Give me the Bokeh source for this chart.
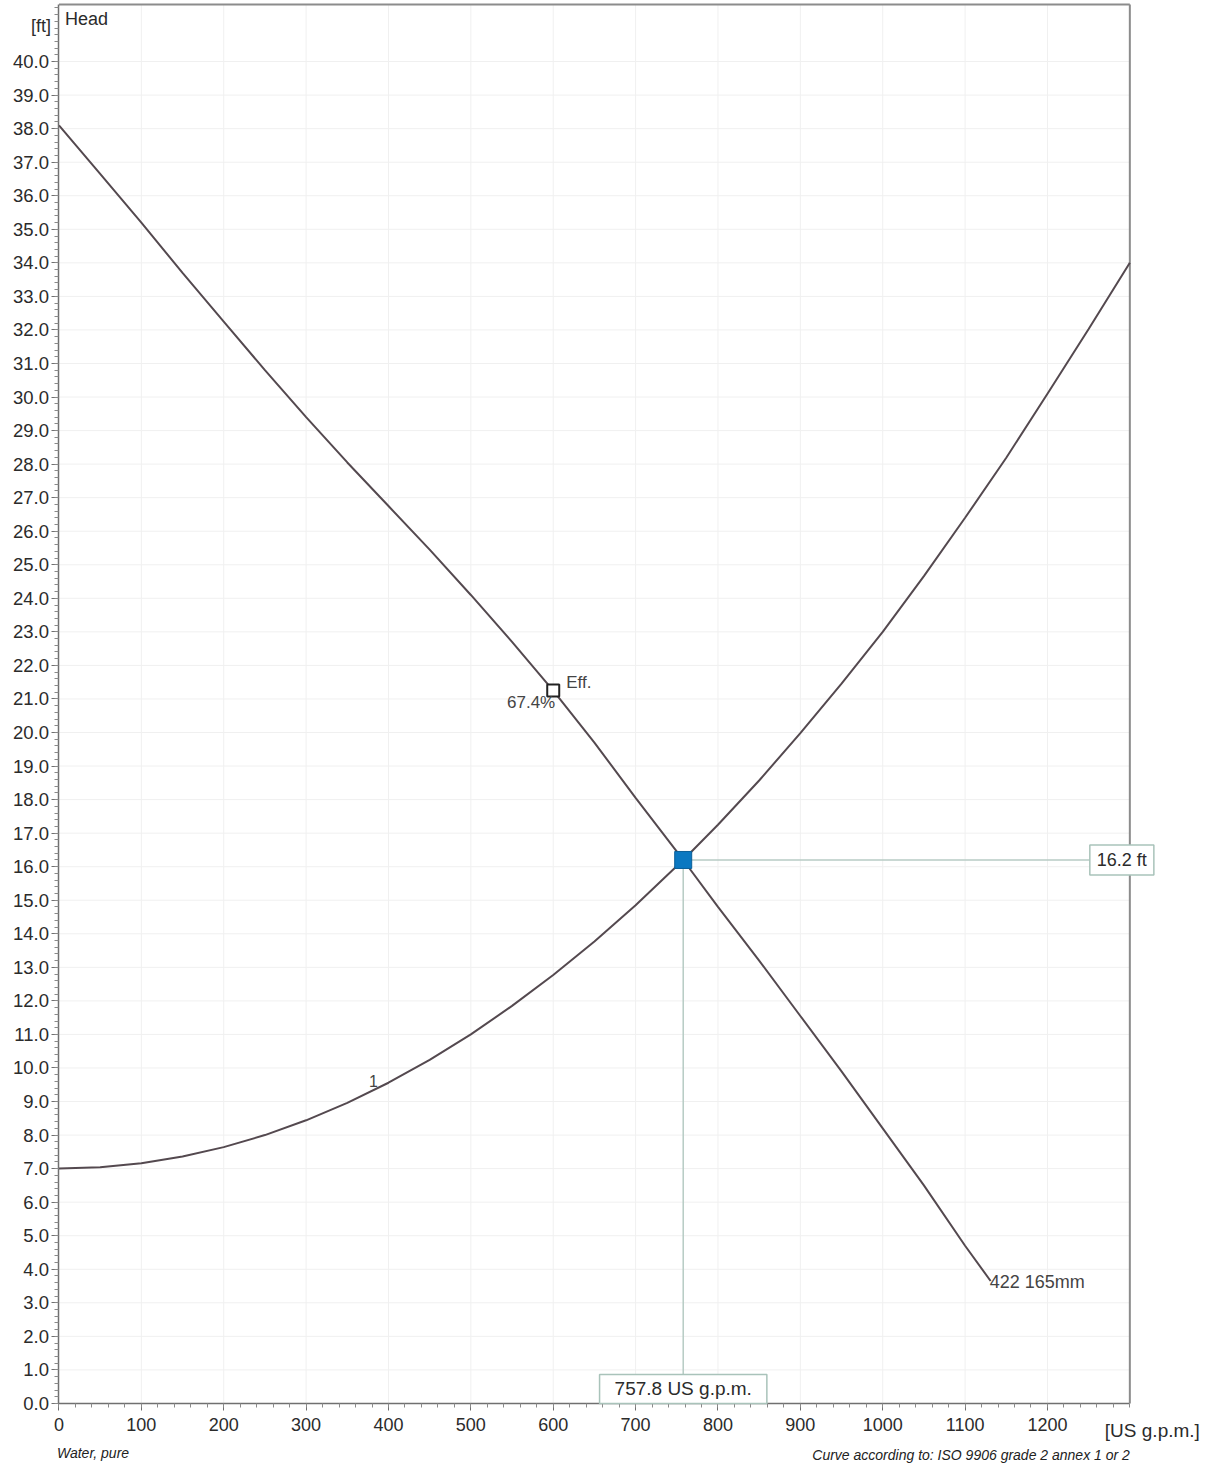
from bokeh.plotting import figure
from bokeh.models import Range1d, FixedTicker, NumeralTickFormatter, Label
from bokeh.core.properties import value
from bokeh.embed import file_html
from bokeh.resources import INLINE

# Pump curve, impeller "422 165mm" (flow in US g.p.m., head in ft)
pump_q = [0, 50, 100, 150, 200, 250, 300, 350, 400, 450, 500, 550, 600, 650, 700,
          757.8, 800, 850, 900, 950, 1000, 1050, 1100, 1131]
pump_h = [38.1, 36.65, 35.2, 33.7, 32.25, 30.8, 29.4, 28.05, 26.75, 25.45, 24.1, 22.7,
          21.25, 19.7, 18.05, 16.2, 14.8, 13.2, 11.55, 9.9, 8.2, 6.5, 4.7, 3.65]

# System curve "1"
sys_q = [0, 50, 100, 150, 200, 250, 300, 350, 400, 450, 500, 550, 600, 650, 700,
         757.8, 800, 850, 900, 950, 1000, 1050, 1100, 1150, 1200, 1250, 1300]
sys_h = [7.0, 7.04, 7.16, 7.36, 7.64, 8.0, 8.44, 8.96, 9.56, 10.24, 11.0, 11.85, 12.77,
         13.77, 14.85, 16.2, 17.25, 18.57, 19.98, 21.46, 23.0, 24.66, 26.4, 28.19, 30.1,
         32.03, 34.0]

# Duty point and best-efficiency marker
duty_q = 757.8
duty_h = 16.2
eff_q = 600
eff_h = 21.25
eff_pct = 67.4

x_ticks = list(range(0, 1201, 100))
x_minor = list(range(0, 1301, 20))
y_ticks = list(range(0, 41))
y_minor = [round(i * 0.2, 1) for i in range(0, 209)]

# chart area limits (the diagram box)
X_MAX = 1300
Y_MAX = 41.7
# visible extent, leaving room around the box for the axes and notes
X_LO, X_HI = -71.0, 1405.2
Y_LO, Y_HI = -1.82, 41.82

FONT = "Liberation Sans"
NARROW = "Liberation Sans Narrow, Liberation Sans"
TXT = "#2b2b2b"
CURVE = "#54494f"
GUIDE = "#b7cbc4"
BOX = "#a9c3ba"

p = figure(
    width=1216, height=1464,
    x_range=Range1d(X_LO, X_HI), y_range=Range1d(Y_LO, Y_HI),
    output_backend="svg", toolbar_location=None,
    min_border=0, min_border_left=0, min_border_right=0,
    min_border_top=0, min_border_bottom=0,
    background_fill_color="white", border_fill_color="white",
)
p.outline_line_color = None
p.xgrid.visible = False
p.ygrid.visible = False

# faint grid inside the diagram box
p.segment(x0=x_ticks[1:] + [1300], y0=0, x1=x_ticks[1:] + [1300], y1=Y_MAX,
          line_color="#f0f0f0", line_width=1)
p.segment(x0=0, y0=y_ticks[1:], x1=X_MAX, y1=y_ticks[1:],
          line_color="#f0f0f0", line_width=1)

# box edges (top and right)
p.segment(x0=[0, X_MAX], y0=[Y_MAX, 0], x1=[X_MAX, X_MAX], y1=[Y_MAX, Y_MAX],
          line_color="#8c8c8c", line_width=2)

# axes along the box edges
p.xaxis.fixed_location = 0
p.yaxis.fixed_location = 0
p.xaxis.bounds = (0, X_MAX)
p.yaxis.bounds = (0, Y_MAX)
p.xaxis.ticker = FixedTicker(ticks=x_ticks, minor_ticks=x_minor)
p.yaxis.ticker = FixedTicker(ticks=y_ticks, minor_ticks=y_minor)
p.yaxis.formatter = NumeralTickFormatter(format="0.0")
for ax in (p.xaxis, p.yaxis):
    ax.axis_line_color = "#707070"
    ax.axis_line_width = 1.5
    ax.major_tick_line_color = "#707070"
    ax.minor_tick_line_color = "#8a8a8a"
    ax.major_tick_in = 0
    ax.minor_tick_in = 0
    ax.major_tick_out = 7
    ax.minor_tick_out = 4
    ax.major_label_text_font = FONT
    ax.major_label_text_font_size = "18px"
    ax.major_label_text_color = TXT
p.yaxis.major_label_text_font_size = "18.5px"
p.yaxis.major_label_standoff = 3
p.xaxis.major_label_standoff = 8

# guide lines from the duty point to the value boxes
p.segment(x0=[duty_q, duty_q], y0=[duty_h, duty_h], x1=[duty_q, X_MAX], y1=[0, duty_h],
          line_color=GUIDE, line_width=1.5)

# curves
p.line(pump_q, pump_h, line_color=CURVE, line_width=2)
p.line(sys_q, sys_h, line_color=CURVE, line_width=2)

# efficiency marker
p.scatter([eff_q], [eff_h], marker="square", size=12, fill_color="white",
          line_color="#222222", line_width=2)
p.text([eff_q], [eff_h], text=["Eff."], x_offset=13, y_offset=-8,
       text_align="left", text_baseline="middle", text_font=value(FONT),
       text_font_size="17px", text_color="#444444")
p.text([eff_q], [eff_h], text=[f"{eff_pct}%"], x_offset=2, y_offset=12,
       text_align="right", text_baseline="middle", text_font=value(FONT),
       text_font_size="17px", text_color="#444444")

# duty point
p.scatter([duty_q], [duty_h], marker="square", size=17, fill_color="#0b78c1",
          line_color="#0a5f99", line_width=1)

# curve names
p.text([sys_q[8]], [sys_h[8]], text=["1"], x_offset=-15, y_offset=-2,
       text_align="center", text_baseline="middle", text_font=value(FONT),
       text_font_size="16px", text_color="#444444")
p.text([pump_q[-1]], [pump_h[-1]], text=["422 165mm"], x_offset=-1, y_offset=1,
       text_align="left", text_baseline="middle", text_font=value(FONT),
       text_font_size="18px", text_color="#444444")

# value boxes for the duty point
p.add_layout(Label(x=duty_q, y=0, text=f"{duty_q} US g.p.m.", anchor="bottom_center",
                   padding=(15, 4), text_font=FONT, text_font_size="19px", text_color=TXT,
                   background_fill_color="white", border_line_color=BOX,
                   border_line_width=1.5))
p.add_layout(Label(x=X_MAX, y=duty_h, text=f"{duty_h} ft", x_offset=-8, anchor="center",
                   padding=(7, 5), text_font=FONT, text_font_size="18px", text_color=TXT,
                   background_fill_color="white", border_line_color=BOX,
                   border_line_width=1.5))

# axis captions and footnotes
p.add_layout(Label(x=0, y=Y_MAX, x_offset=6, y_offset=-14, text="Head", text_align="left",
                   text_baseline="middle", text_font=FONT, text_font_size="18px",
                   text_color=TXT))
p.add_layout(Label(x=0, y=Y_MAX, x_offset=-8, y_offset=-21, text="[ft]", text_align="right",
                   text_baseline="middle", text_font=FONT, text_font_size="18px",
                   text_color=TXT))
p.add_layout(Label(x=X_MAX, y=0, x_offset=-25, y_offset=-27, text="[US g.p.m.]",
                   text_align="left", text_baseline="middle", text_font=FONT,
                   text_font_size="19px", text_color=TXT))
p.add_layout(Label(x=0, y=0, x_offset=-2, y_offset=-50, text="Water, pure",
                   text_align="left", text_baseline="middle", text_font=NARROW,
                   text_font_style="italic", text_font_size="14px", text_color="#222222"))
p.add_layout(Label(x=X_MAX, y=0, x_offset=0, y_offset=-52,
                   text="Curve according to: ISO 9906 grade 2 annex 1 or 2",
                   text_align="right", text_baseline="middle", text_font=NARROW,
                   text_font_style="italic", text_font_size="14px", text_color="#222222"))

open("out.html", "w").write(file_html(p, INLINE))
